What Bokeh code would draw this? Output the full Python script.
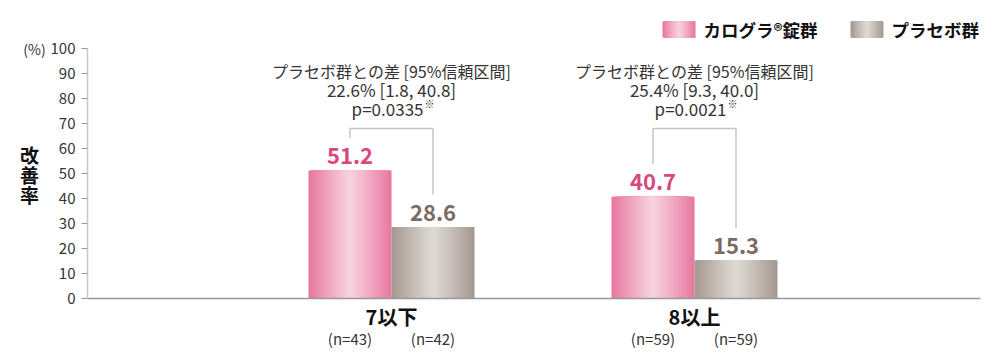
from bokeh.plotting import figure
from bokeh.layouts import row
from bokeh.models import Range1d, FixedTicker, ColumnDataSource
from bokeh.embed import file_html
from bokeh.resources import INLINE
from bokeh.core.properties import value

# ---------------- data ----------------
categories = ["7以下", "8以上"]
karogra = [51.2, 40.7]
placebo = [28.6, 15.3]
n_karogra = ["(n=43)", "(n=59)"]
n_placebo = ["(n=42)", "(n=59)"]
diff_title = "プラセボ群との差 [95%信頼区間]"
diff_text = ["22.6% [1.8, 40.8]", "25.4% [9.3, 40.0]"]
p_values = ["p=0.0335", "p=0.0021"]
y_ticks = list(range(0, 101, 10))
legend_names = ["カログラ®錠群", "プラセボ群"]
y_label = "改善率"
y_unit = "(%)"

FONT = "Noto Sans CJK JP"
PINK_EDGE, PINK_CENTER = "#e8779f", "#f7d4df"
GRAY_EDGE, GRAY_CENTER = "#a59890", "#dfdad6"
PINK_TXT, GRAY_TXT = "#d8477d", "#7b6b63"
TXT = "#333333"

H = 361
LEFT_W = 47
MAIN_W = 1000 - LEFT_W
BORDER_L = 40
Y_RANGE = (-25.2, 119.2)

p = figure(width=MAIN_W, height=H, output_backend="svg", toolbar_location=None,
           x_range=Range1d(0, MAIN_W - BORDER_L), y_range=Range1d(*Y_RANGE),
           x_axis_location=None, min_border_left=BORDER_L, min_border_right=0,
           min_border_top=0, min_border_bottom=0)
p.outline_line_color = None
p.grid.visible = False

ax = p.yaxis[0]
ax.bounds = (0, 100)
ax.ticker = FixedTicker(ticks=y_ticks)
ax.axis_line_color = "#c8c8c8"
ax.axis_line_width = 1.5
ax.major_tick_line_color = "#999999"
ax.major_tick_in = 0
ax.major_tick_out = 6
ax.minor_tick_line_color = None
ax.major_label_text_font = FONT
ax.major_label_text_font_size = "15px"
ax.major_label_text_color = TXT
ax.major_label_standoff = 6


def hex2rgb(h):
    h = h.lstrip("#")
    return tuple(int(h[i:i + 2], 16) for i in (0, 2, 4))


def mix(c1, c2, t):
    a, b = hex2rgb(c1), hex2rgb(c2)
    return "#%02x%02x%02x" % tuple(round(a[i] + (b[i] - a[i]) * t) for i in range(3))


def gradient(src, left, right, top, bottom, edge, center, n=30):
    # nested rectangles, widest first -> smooth horizontal gradient without seams
    c = (left + right) / 2
    half = (right - left) / 2
    for k in range(n):
        d = 1 - k / n
        src["left"].append(c - half * d)
        src["right"].append(c + half * d)
        src["top"].append(top)
        src["bottom"].append(bottom)
        src["color"].append(mix(center, edge, d ** 1.1))


GROUP0, GROUP_GAP, BAR_W = 304, 303, 83
centers = [GROUP0 + i * GROUP_GAP for i in range(len(categories))]
pink_x = [c - BAR_W / 2 for c in centers]
gray_x = [c + BAR_W / 2 for c in centers]

bars = dict(left=[], right=[], top=[], bottom=[], color=[])
for i, c in enumerate(centers):
    gradient(bars, c - BAR_W, c, karogra[i], 0, PINK_EDGE, PINK_CENTER)
    gradient(bars, c, c + BAR_W, placebo[i], 0, GRAY_EDGE, GRAY_CENTER)

# legend swatches
LEG_Y0, LEG_Y1 = 104.4, 110.8
legend_x = [575, 763]
gradient(bars, legend_x[0], legend_x[0] + 33, LEG_Y1, LEG_Y0, PINK_EDGE, PINK_CENTER)
gradient(bars, legend_x[1], legend_x[1] + 33, LEG_Y1, LEG_Y0, GRAY_EDGE, GRAY_CENTER)

p.quad(left="left", right="right", top="top", bottom="bottom", fill_color="color",
       line_color=None, source=ColumnDataSource(bars))

# baseline
p.segment(x0=[0], y0=[0], x1=[893], y1=[0], line_color="#999999", line_width=1.5)

# value labels
p.text(x=pink_x, y=[v + 6 for v in karogra], text=[f"{v:.1f}" for v in karogra],
       text_align="center", text_baseline="middle", text_font=value(FONT),
       text_font_size="22px", text_font_style="bold", text_color=PINK_TXT)
p.text(x=gray_x, y=[v + 6 for v in placebo], text=[f"{v:.1f}" for v in placebo],
       text_align="center", text_baseline="middle", text_font=value(FONT),
       text_font_size="22px", text_font_style="bold", text_color=GRAY_TXT)

# brackets
BR_TOP = 68
xs, ys = [], []
for i in range(len(categories)):
    xs.append([pink_x[i], pink_x[i], gray_x[i], gray_x[i]])
    ys.append([karogra[i] + 13, BR_TOP, BR_TOP, placebo[i] + 13])
p.multi_line(xs=xs, ys=ys, line_color="#c4c4c4", line_width=1.5)

# annotation text
p.text(x=centers, y=[BR_TOP + 23.2] * 2, text=[diff_title] * 2, text_align="center",
       text_baseline="middle", text_font=value(FONT), text_font_size="16px", text_color=TXT)
p.text(x=centers, y=[BR_TOP + 15.6] * 2, text=diff_text, text_align="center",
       text_baseline="middle", text_font=value(FONT), text_font_size="17px", text_color=TXT)
p.text(x=centers, y=[BR_TOP + 8] * 2, text=p_values, text_align="right", x_offset=32,
       text_baseline="middle", text_font=value(FONT), text_font_size="17px", text_color=TXT)
p.text(x=centers, y=[BR_TOP + 10] * 2, text=["※"] * 2, text_align="left", x_offset=33,
       text_baseline="middle", text_font=value(FONT), text_font_size="10px", text_color=TXT)

# category labels
p.text(x=centers, y=[-7.2] * 2, text=categories, text_align="center", text_baseline="middle",
       text_font=value(FONT), text_font_size="20px", text_font_style="bold", text_color="#111111")
p.text(x=pink_x, y=[-16] * 2, text=n_karogra, text_align="center", text_baseline="middle",
       text_font=value(FONT), text_font_size="15px", text_color=TXT)
p.text(x=gray_x, y=[-16] * 2, text=n_placebo, text_align="center", text_baseline="middle",
       text_font=value(FONT), text_font_size="15px", text_color=TXT)

# legend text
p.text(x=[lx + 41 for lx in legend_x], y=[(LEG_Y0 + LEG_Y1) / 2] * 2, text=legend_names,
       text_align="left", text_baseline="middle", text_font=value(FONT),
       text_font_size="17.5px", text_font_style="bold", text_color="#111111")

# ---- left strip with the unit and the vertical axis title ----
q = figure(width=LEFT_W, height=H, output_backend="svg", toolbar_location=None,
           x_range=Range1d(0, LEFT_W), y_range=Range1d(*Y_RANGE),
           x_axis_location=None, y_axis_location=None,
           min_border_left=0, min_border_right=0, min_border_top=0, min_border_bottom=0)
q.outline_line_color = None
q.grid.visible = False
q.text(x=[34], y=[100], text=[y_unit], text_align="center", text_baseline="middle",
       text_font=value(FONT), text_font_size="14px", text_color=TXT)
q.text(x=[29] * len(y_label), y=[57.6 - k * 8 for k in range(len(y_label))],
       text=list(y_label), text_align="center", text_baseline="middle",
       text_font=value(FONT), text_font_size="19px", text_font_style="bold",
       text_color="#111111")

layout = row(q, p, spacing=0)
open("out.html", "w").write(file_html(layout, INLINE))
